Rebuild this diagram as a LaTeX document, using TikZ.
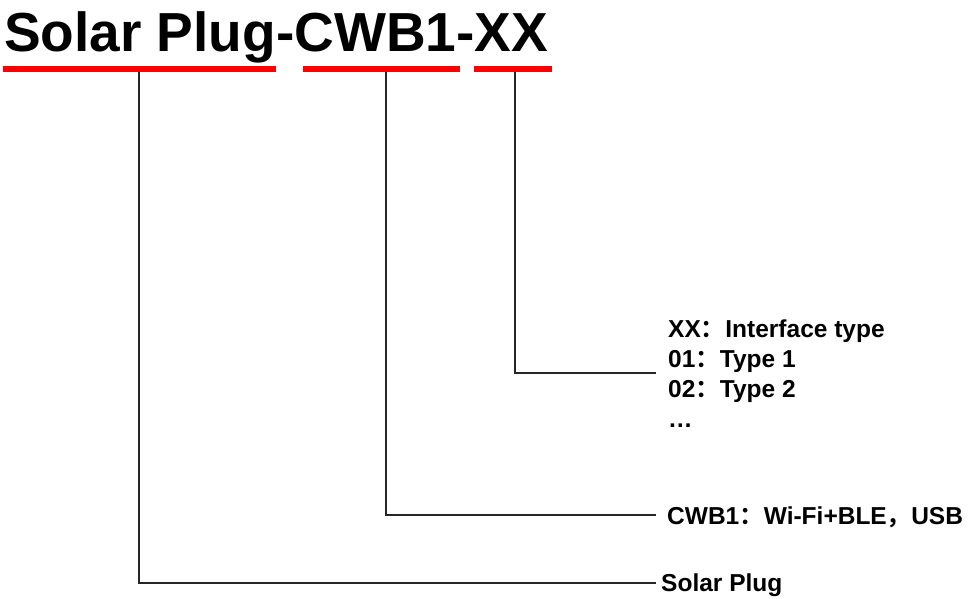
\documentclass[tikz,border=0pt]{standalone}
\usepackage{fontspec}
\setmainfont{Liberation Sans}
\newfontfamily\cjk{Noto Sans CJK SC}[BoldFont={Noto Sans CJK SC Bold}]
\newcommand{\fwc}{{\cjk\bfseries ：}}
\newcommand{\fwcomma}{{\cjk\bfseries ，}}
\begin{document}
\begin{tikzpicture}[x=1pt,y=-1pt,
  redbar/.style={draw=red,line width=6pt},
  leader/.style={draw=black!85,line width=1.1pt},
  lbl/.style={anchor=base west,inner sep=0pt,font=\fontsize{24.5}{30}\selectfont\bfseries}]
\useasboundingbox (0,0) rectangle (971,598);
\node[anchor=base west,inner sep=0pt,font=\fontsize{55}{60}\selectfont\bfseries] (title) at (4,51) {Solar Plug-CWB1-XX};
% red bars
\coordinate (r1a) at (3,69); \coordinate (r1b) at (276,69);
\coordinate (r2a) at (303,69); \coordinate (r2b) at (460,69);
\coordinate (r3a) at (474,69); \coordinate (r3b) at (552,69);
\draw[redbar] (r1a) -- (r1b);
\draw[redbar] (r2a) -- (r2b);
\draw[redbar] (r3a) -- (r3b);
\coordinate (d1) at (139,72);
\coordinate (d2) at (386,72);
\coordinate (d3) at (515,72);
% labels
\node[lbl] (xx) at (668,337) {XX\fwc Interface type};
\node[lbl] (t1) at (668,367) {01\fwc Type 1};
\node[lbl] (t2) at (668,397) {02\fwc Type 2};
\node[lbl] (dots) at (668,427) {\dots};
\node[lbl] (cwb) at (667,524) {CWB1\fwc Wi-Fi+BLE\fwcomma USB};
\node[lbl] (sp) at (661,591) {Solar Plug};
\coordinate (e3) at (656,373);
\coordinate (e2) at (656,515);
\coordinate (e1) at (656,583);
\draw[leader] (d3) |- (e3);
\draw[leader] (d2) |- (e2);
\draw[leader] (d1) |- (e1);
\end{tikzpicture}
\end{document}
